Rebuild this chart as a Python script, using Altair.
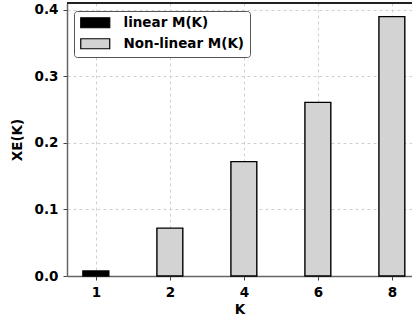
import altair as alt
import pandas as pd

K = ["1", "2", "4", "6", "8"]
xe = [0.0075, 0.072, 0.172, 0.261, 0.39]
model = ["linear M(K)", "Non-linear M(K)", "Non-linear M(K)", "Non-linear M(K)", "Non-linear M(K)"]
legend_order = ["linear M(K)", "Non-linear M(K)"]
colors = ["#000000", "#d3d3d3"]
y_ticks = [0.0, 0.1, 0.2, 0.3, 0.4]

df = pd.DataFrame({"K": K, "XE": xe, "model": model, "idx": list(range(len(K)))})

BAR_W = 0.35
FONT = "DejaVu Sans"
W, H = 345, 273
label_expr = "[" + ",".join(f"'{k}'" for k in K) + "][datum.value]"

base = alt.Chart(df).transform_calculate(
    x0=f"datum.idx - {BAR_W/2}", x1=f"datum.idx + {BAR_W/2}"
)

bars = base.mark_bar(stroke="black", strokeWidth=1.4).encode(
    x=alt.X("x0:Q",
            scale=alt.Scale(domain=[-0.39, -0.39 + W / 74.0], nice=False, zero=False),
            axis=alt.Axis(values=list(range(len(K))), labelExpr=label_expr, title="K",
                          grid=True, gridDash=[3, 3], gridColor="#d0d0d0",
                          domain=True, domainColor="#666", domainWidth=1.5,
                          tickColor="#444", tickSize=4, tickWidth=1,
                          labelPadding=5, titlePadding=4)),
    x2="x1:Q",
    y=alt.Y("XE:Q",
            scale=alt.Scale(domain=[0, 0.4105], nice=False),
            axis=alt.Axis(values=y_ticks, format=".1f", title="XE(K)",
                          grid=True, gridDash=[3, 3], gridColor="#d0d0d0",
                          domain=True, domainColor="#666", domainWidth=1.5,
                          tickColor="#444", tickSize=4, tickWidth=1,
                          labelPadding=5, titlePadding=10)),
    y2=alt.datum(0),
    fill=alt.Fill("model:N",
                  scale=alt.Scale(domain=legend_order, range=colors),
                  legend=alt.Legend(orient="none", legendX=7, legendY=8, title=None,
                                    symbolType="M-1,-1L4.8,-1L4.8,1L-1,1Z",
                                    symbolSize=100, symbolStrokeColor="black",
                                    symbolStrokeWidth=1.2, symbolOpacity=1,
                                    labelOffset=31, rowPadding=5,
                                    labelFont=FONT, labelFontWeight="bold",
                                    labelFontSize=13.5, labelColor="black",
                                    padding=5, strokeColor="#555", fillColor="white",
                                    cornerRadius=3)),
)

top_spine = alt.Chart(df).mark_rule(color="#222", strokeWidth=1.5).encode(
    x=alt.value(0), x2=alt.value(W), y=alt.value(0)
)

chart = alt.layer(bars, top_spine).properties(
    width=W, height=H,
    autosize=alt.AutoSizeParams(type="none"),
    padding={"left": 67, "top": 3, "right": 0, "bottom": 44},
).configure_view(
    strokeOpacity=0, strokeWidth=0
).configure_axis(
    labelFont=FONT, titleFont=FONT, labelFontWeight="bold", titleFontWeight="bold",
    labelFontSize=13.5, titleFontSize=13.5, labelColor="black", titleColor="black",
)

chart.save("out.html", embed_options={"renderer": "svg", "actions": False})
